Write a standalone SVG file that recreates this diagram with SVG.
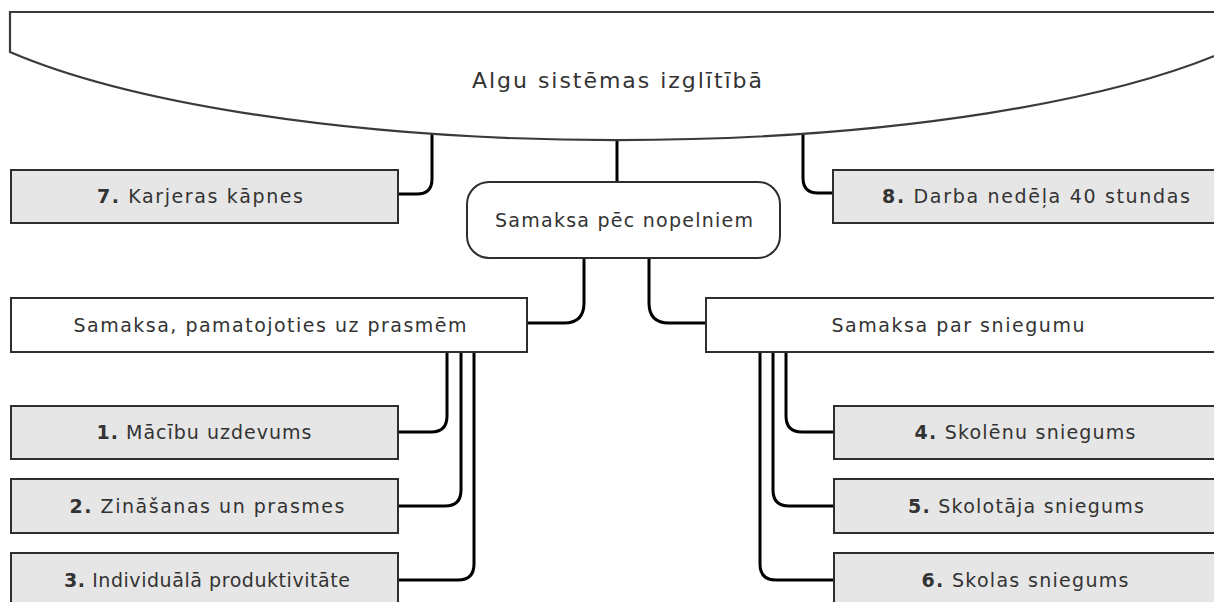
<svg xmlns="http://www.w3.org/2000/svg" width="1214" height="602" viewBox="0 0 1214 602">
<style>
.hdr{fill:#ffffff;stroke:#3a3a3a;stroke-width:2.2}
.box{fill:#ffffff;stroke:#2e2e2e;stroke-width:2}
.gbox{fill:#e6e6e6;stroke:#2e2e2e;stroke-width:2}
.con{fill:none;stroke:#000000;stroke-width:3}
text{font-family:"DejaVu Sans","Liberation Sans",sans-serif;font-size:19px;fill:#333333;text-anchor:middle}
text.title{font-size:22px}
.b{font-weight:bold}
</style>
<rect width="1214" height="602" fill="#ffffff"/>
<g id="connectors">
<path class="con" d="M432,133 V179 Q432,194 417,194 H398"/>
<path class="con" d="M617,140 V182"/>
<path class="con" d="M803,133 V178 Q803,193 818,193 H833"/>
<path class="con" d="M584,258 V303 Q584,323 564,323 H528"/>
<path class="con" d="M649,258 V303 Q649,323 669,323 H706"/>
<path class="con" d="M447,353 V416 Q447,432 431,432 H398"/>
<path class="con" d="M461,353 V490 Q461,506 445,506 H398"/>
<path class="con" d="M474,353 V564 Q474,580 458,580 H398"/>
<path class="con" d="M786,353 V416 Q786,432 802,432 H834"/>
<path class="con" d="M773,353 V490 Q773,506 789,506 H834"/>
<path class="con" d="M760,353 V564 Q760,580 776,580 H834"/>
</g>
<g id="root">
<path class="hdr" d="M10,12 H1240 V52 H1224 A706,180 0 0 1 10,52 Z"/>
<text class="title" x="617" y="88" textLength="290" lengthAdjust="spacing">Algu sistēmas izglītībā</text>
</g>
<g id="n7">
<rect class="gbox" x="11" y="170" width="387" height="53"/>
<text x="200" y="203" textLength="206" lengthAdjust="spacing"><tspan class="b">7.</tspan> Karjeras kāpnes</text>
</g>
<g id="n8">
<rect class="gbox" x="833" y="170" width="400" height="53"/>
<text x="1036" y="203" textLength="308" lengthAdjust="spacing"><tspan class="b">8.</tspan> Darba nedēļa 40 stundas</text>
</g>
<g id="merit">
<rect class="box" x="467" y="182" width="313" height="76" rx="22" ry="22"/>
<text x="624" y="227" textLength="258" lengthAdjust="spacing">Samaksa pēc nopelniem</text>
</g>
<g id="skills">
<rect class="box" x="11" y="298" width="516" height="54"/>
<text x="270" y="332" textLength="393" lengthAdjust="spacing">Samaksa, pamatojoties uz prasmēm</text>
</g>
<g id="performance">
<rect class="box" x="706" y="298" width="530" height="54"/>
<text x="958" y="332" textLength="253" lengthAdjust="spacing">Samaksa par sniegumu</text>
</g>
<g id="n1">
<rect class="gbox" x="11" y="406" width="387" height="53"/>
<text x="204" y="439" textLength="215" lengthAdjust="spacing"><tspan class="b">1.</tspan> Mācību uzdevums</text>
</g>
<g id="n2">
<rect class="gbox" x="11" y="479" width="387" height="54"/>
<text x="207" y="513" textLength="275" lengthAdjust="spacing"><tspan class="b">2.</tspan> Zināšanas un prasmes</text>
</g>
<g id="n3">
<rect class="gbox" x="11" y="553" width="387" height="60"/>
<text x="207" y="587" textLength="286" lengthAdjust="spacing"><tspan class="b">3.</tspan> Individuālā produktivitāte</text>
</g>
<g id="n4">
<rect class="gbox" x="834" y="406" width="400" height="53"/>
<text x="1025" y="439" textLength="221" lengthAdjust="spacing"><tspan class="b">4.</tspan> Skolēnu sniegums</text>
</g>
<g id="n5">
<rect class="gbox" x="834" y="479" width="400" height="54"/>
<text x="1026" y="513" textLength="236" lengthAdjust="spacing"><tspan class="b">5.</tspan> Skolotāja sniegums</text>
</g>
<g id="n6">
<rect class="gbox" x="834" y="553" width="400" height="60"/>
<text x="1025" y="587" textLength="207" lengthAdjust="spacing"><tspan class="b">6.</tspan> Skolas sniegums</text>
</g>
</svg>
